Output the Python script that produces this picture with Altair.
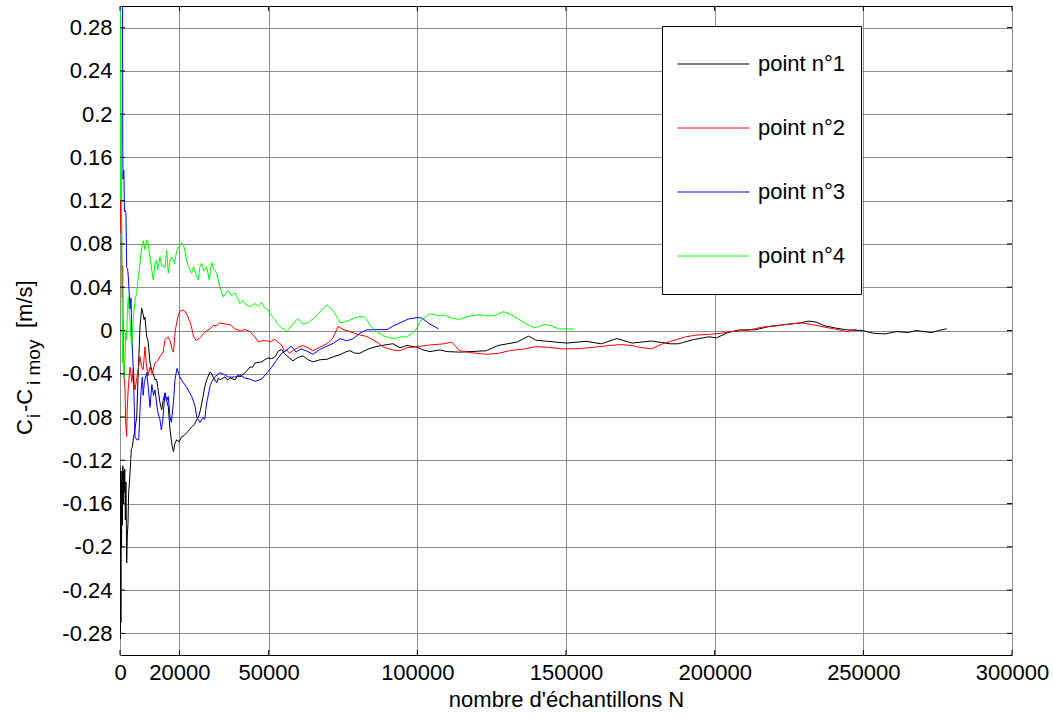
import altair as alt
import pandas as pd

# ---------------- data ----------------
series_names = ["point n°1", "point n°2", "point n°3", "point n°4"]
series_colors = ["#000000", "#ff0000", "#0000ff", "#00ff00"]

x_ticks = [0, 20000, 50000, 100000, 150000, 200000, 250000, 300000]
y_ticks = [-0.28, -0.24, -0.2, -0.16, -0.12, -0.08, -0.04, 0, 0.04, 0.08, 0.12, 0.16, 0.2, 0.24, 0.28]

n1 = [0, 100, 200, 300, 400, 520, 650, 800, 950, 1100, 1250, 1400, 1600, 1800, 2000, 2250, 2450, 2700,
      2900, 3200, 3500, 3800, 4136, 4500, 5000, 5616, 6053, 6400, 6726, 7000, 7298, 7700, 8100, 8408,
      8979, 9416, 9800, 10100, 10661, 11200, 11771, 12300, 12679, 13452, 14024, 14500, 15134, 15700,
      16243, 16815, 17200, 17589, 18000, 18400, 19068, 19900, 20750, 21600, 22431, 23300, 24113, 25000,
      25794, 26400, 26904, 27913, 28500, 29157, 30267, 30800, 31276, 32520, 33100, 33630, 35312, 36200,
      36993, 38675, 39500, 40356, 42038, 43719, 44600, 45401, 47654, 48700, 49772, 51000, 52127, 53300,
      54380, 55200, 56061, 58180, 59800, 61543, 63200, 64906, 67300, 69614, 72000, 73986, 75700, 77349,
      78900, 80712, 83066, 84700, 86429, 89792, 91810, 94164, 96518, 99881, 102000, 104253, 107616,
      110000, 114187, 118000, 123215, 127084, 133532, 137401, 139981, 146430, 150299, 156747, 161906,
      167064, 172223, 178672, 185120, 187700, 192858, 198017, 200597, 204466, 208335, 213494, 218652,
      223811, 228970, 231549, 234128, 236708, 240577, 244446, 249605, 253474, 257343, 261212, 265081,
      267660, 272819, 275398, 277977]
c1 = [-0.125, -0.285, -0.13, -0.27, -0.14, -0.2, -0.13, -0.18, -0.125, -0.16, -0.13, -0.15, -0.128,
      -0.175, -0.14, -0.215, -0.19, -0.178, -0.15, -0.14, -0.125, -0.11, -0.108, -0.1, -0.092, -0.08,
      -0.0456, -0.02, 0.0032, 0.012, 0.0207, 0.016, 0.01, 0.0124, -0.006, -0.0088, -0.0207, -0.03,
      -0.0364, -0.04, -0.0456, -0.045, -0.052, -0.0668, -0.0733, -0.065, -0.0576, -0.065, -0.0705,
      -0.0917, -0.1, -0.1074, -0.112, -0.105, -0.101, -0.103, -0.0982, -0.097, -0.0945, -0.092, -0.089,
      -0.087, -0.0825, -0.08, -0.0752, -0.0613, -0.052, -0.0456, -0.0383, -0.04, -0.0429, -0.0484,
      -0.044, -0.0456, -0.0429, -0.046, -0.0438, -0.0456, -0.042, -0.0429, -0.0392, -0.0337, -0.034,
      -0.03, -0.029, -0.027, -0.0254, -0.026, -0.0244, -0.019, -0.0176, -0.021, -0.0234, -0.028,
      -0.025, -0.0234, -0.027, -0.029, -0.027, -0.0266, -0.024, -0.0224, -0.02, -0.0186, -0.021,
      -0.021, -0.0176, -0.016, -0.0147, -0.0131, -0.0122, -0.016, -0.0138, -0.0155, -0.018, -0.0195,
      -0.018, -0.0195, -0.02, -0.0195, -0.0187, -0.0139, -0.0107, -0.0052, -0.009, -0.0107, -0.0116,
      -0.01, -0.0123, -0.0074, -0.0116, -0.0097, -0.0123, -0.0123, -0.0084, -0.0058, -0.0068, -0.0019,
      0.0006, 0.0006, 0.0039, 0.0055, 0.0071, 0.0087, 0.0078, 0.0045, 0.0023, 0.0006, 0.0, -0.0026,
      -0.0032, -0.001, -0.0019, 0.0, -0.0019, 0.0, 0.0016]

n2 = [0, 100, 200, 300, 450, 600, 800, 900, 1000, 1110, 1350, 1682, 1900, 2100, 2253, 2400, 2690, 3000,
      3363, 3700, 3935, 4300, 4473, 4800, 5045, 5600, 6100, 6726, 7200, 7800, 8408, 8800, 9400, 10089,
      10800, 11771, 12700, 13452, 14500, 15134, 16243, 16900, 17600, 18000, 18600, 19500, 20100, 21000,
      22000, 22800, 23900, 24700, 25500, 26300, 27100, 28000, 29000, 30300, 31400, 32500, 33600, 35300,
      37000, 38700, 40400, 42000, 43700, 45400, 46500, 47600, 49200, 50500, 52100, 54400, 55300, 56100,
      57000, 58200, 60000, 61500, 63200, 64900, 67200, 69600, 71500, 73400, 75000, 77300, 80700, 83000,
      86400, 88700, 91800, 94200, 96500, 100000, 103900, 109000, 111600, 114200, 118100, 123200, 127100,
      131000, 136100, 140000, 143900, 149000, 154200, 159300, 164500, 168400, 172200, 174800, 178700,
      182500, 186400, 190300, 194100, 198000, 201900, 205800, 210900, 216100, 219900, 223800, 229000,
      232800, 236700, 240600, 244400, 247700]
c2 = [0.2, 0.1, 0.19, 0.09, 0.12, 0.06, 0.03, 0.06, 0.015, 0.003, -0.035, -0.055, -0.085, -0.092,
      -0.098, -0.075, -0.058, -0.045, -0.034, -0.04, -0.048, -0.04, -0.035, -0.05, -0.055, -0.045,
      -0.036, -0.024, -0.033, -0.036, -0.015, -0.03, -0.042, -0.034, -0.04, -0.03, -0.028, -0.024, -0.02,
      -0.0083, -0.006, -0.01, -0.018, -0.02, 0.0005, 0.013, 0.0175, 0.019, 0.0175, 0.013, 0.005, -0.005,
      -0.009, -0.008, -0.0065, -0.003, -0.0005, 0.0015, 0.0045, 0.0045, 0.007, 0.006, 0.0055, 0.0015,
      -0.0005, 0.001, -0.001, -0.006, -0.0105, -0.0095, -0.0095, -0.0105, -0.0083, -0.0135, -0.0195,
      -0.018, -0.021, -0.0186, -0.0155, -0.0138, -0.016, -0.0186, -0.0155, -0.0122, -0.0074, 0.0038,
      0.001, -0.001, -0.0042, -0.0055, -0.0106, -0.0154, -0.018, -0.0186, -0.016, -0.0149, -0.0135,
      -0.0123, -0.0107, -0.0187, -0.0205, -0.022, -0.0212, -0.0187, -0.017, -0.0149, -0.0155, -0.017,
      -0.0168, -0.0155, -0.0139, -0.013, -0.0139, -0.0155, -0.017, -0.0123, -0.009, -0.0058, -0.0042,
      -0.0036, -0.0026, -0.001, 0.0, 0.0032, 0.0039, 0.0055, 0.0071, 0.0055, 0.0032, 0.0013, -0.001,
      0.0013]

n3 = [0, 500, 850, 920, 1000, 1150, 1300, 1500, 1700, 2000, 2150, 2253, 2550, 2791, 3000, 3363, 3700,
      3935, 4200, 4473, 4800, 5045, 5616, 6300, 6726, 7100, 7500, 7800, 8200, 8979, 9500, 10089, 10700,
      11300, 11771, 12679, 13452, 13900, 14300, 15134, 15700, 16243, 16815, 17300, 18000, 18500, 19200,
      20000, 20750, 22431, 24113, 25250, 25794, 26900, 27900, 28500, 29157, 30400, 31800, 33600, 35300,
      36300, 38675, 40356, 42000, 43700, 45400, 47600, 49500, 51000, 52500, 54400, 56100, 57600, 59200,
      60900, 62800, 64900, 67200, 69600, 72000, 74000, 76300, 78500, 80700, 83000, 86400, 89800, 92100,
      94500, 96900, 99900, 101600, 103900, 105600, 107100]
c3 = [0.9, 0.5, 0.32, 0.18, 0.14, 0.146, 0.148, 0.11, 0.111, 0.109, 0.08, 0.058, 0.057, 0.05, 0.04,
      0.02, 0.03, 0.0005, -0.02, -0.036, -0.07, -0.098, -0.101, -0.101, -0.073, -0.055, -0.043, -0.06,
      -0.048, -0.039, -0.052, -0.071, -0.05, -0.06, -0.055, -0.075, -0.0825, -0.092, -0.085, -0.058,
      -0.065, -0.061, -0.08, -0.085, -0.065, -0.045, -0.035, -0.042, -0.046, -0.0525, -0.061, -0.07,
      -0.08, -0.085, -0.0805, -0.082, -0.067, -0.05, -0.043, -0.039, -0.041, -0.043, -0.043, -0.041,
      -0.044, -0.045, -0.047, -0.045, -0.039, -0.034, -0.028, -0.021, -0.018, -0.0145, -0.02, -0.017,
      -0.019, -0.022, -0.0175, -0.0145, -0.0115, -0.0075, -0.0095, -0.0075, -0.0025, 0.0006, 0.0008,
      0.0008, 0.0045, 0.0075, 0.0105, 0.012, 0.0115, 0.0065, 0.004, 0.0015]

n4 = [0, 100, 150, 250, 350, 450, 560, 700, 820, 950, 1110, 1350, 1682, 1950, 2253, 2500, 2791, 3100,
      3363, 3650, 3935, 4200, 4473, 4750, 5045, 5616, 6053, 6726, 7298, 7850, 8400, 8979, 9400, 10089,
      10661, 11200, 11771, 12300, 12679, 13452, 14000, 14500, 15134, 15700, 16243, 16815, 17589, 18300,
      19100, 20000, 20750, 21600, 22431, 23000, 24113, 24700, 25500, 26300, 26900, 27500, 28200, 29157,
      30000, 30800, 31500, 32520, 33600, 34700, 35500, 36500, 37500, 38700, 39500, 40400, 41300, 42000,
      43700, 45400, 46500, 47600, 48600, 49800, 50900, 52100, 53200, 54400, 55500, 56100, 57000, 58200,
      59800, 61500, 63200, 65000, 66800, 68500, 69600, 70800, 72000, 73500, 74000, 75500, 77300, 79000,
      80700, 82000, 83100, 84300, 86500, 88700, 90500, 92300, 94800, 96500, 98700, 100000, 101200,
      102600, 103900, 105200, 107500, 109000, 111600, 114200, 116000, 118100, 121000, 123500, 125800,
      127500, 129000, 130500, 132200, 134000, 136100, 139300, 141000, 142600, 145000, 147700, 150000,
      152900]
c4 = [0.9, 0.3, 0.12, 0.28, 0.12, 0.2, 0.115, 0.04, -0.03, 0.01, -0.036, -0.045, -0.027, 0.0, -0.009,
      0.02, 0.031, 0.015, 0.01, -0.005, -0.015, 0.0, 0.01, 0.02, 0.028, 0.035, 0.047, 0.062, 0.077,
      0.083, 0.075, 0.083, 0.082, 0.068, 0.056, 0.047, 0.062, 0.065, 0.056, 0.068, 0.06, 0.06, 0.058,
      0.074, 0.053, 0.065, 0.068, 0.062, 0.074, 0.078, 0.081, 0.077, 0.065, 0.059, 0.053, 0.059, 0.052,
      0.047, 0.059, 0.062, 0.055, 0.059, 0.047, 0.063, 0.057, 0.053, 0.04, 0.031, 0.034, 0.037, 0.032,
      0.035, 0.03, 0.025, 0.028, 0.025, 0.022, 0.025, 0.022, 0.026, 0.021, 0.019, 0.014, 0.01, 0.0055,
      0.002, 0.001, -0.0015, 0.002, 0.006, 0.011, 0.006, 0.007, 0.011, 0.016, 0.021, 0.0235, 0.021,
      0.017, 0.01, 0.007, 0.008, 0.0095, 0.0115, 0.013, 0.0125, 0.01, 0.004, -0.0015, -0.005, -0.0065,
      -0.0074, -0.0058, -0.006, -0.002, 0.003, 0.0095, 0.012, 0.015, 0.0152, 0.0135, 0.0145, 0.0115,
      0.0103, 0.012, 0.0136, 0.0145, 0.0135, 0.0136, 0.0155, 0.0174, 0.016, 0.0136, 0.0105, 0.0071,
      0.0023, 0.004, 0.0055, 0.0045, 0.0013, 0.0015, 0.0013]

# ---------------- build table ----------------
frames = []
for name, ns, cs in zip(series_names, [n1, n2, n3, n4], [c1, c2, c3, c4]):
    frames.append(pd.DataFrame({"N": ns, "C": cs, "serie": name}))
df = pd.concat(frames, ignore_index=True)

FONT = "Liberation Sans"
W, H = 892, 649

x_scale = alt.Scale(domain=[0, 300000], nice=False, zero=False)
y_scale = alt.Scale(domain=[-0.3, 0.3], nice=False, zero=False)

lines = alt.Chart(df).mark_line(strokeWidth=1, clip=True).encode(
    x=alt.X("N:Q", scale=x_scale,
            axis=alt.Axis(values=x_ticks, format="d", labelFontSize=22, labelPadding=7,
                          ticks=False, domain=False, grid=True, gridColor="#8c8c8c",
                          gridWidth=1, labelFlush=False, labelOverlap=False,
                          labelColor="#000000", title="nombre d'échantillons N",
                          titleFontSize=22, titleFontWeight="normal", titlePadding=6,
                          titleColor="#000000")),
    y=alt.Y("C:Q", scale=y_scale,
            axis=alt.Axis(values=y_ticks,
                          labelExpr="(datum.value < 0 ? '-' : '') + format(abs(datum.value), '.2~f')",
                          labelFontSize=22, labelPadding=8, ticks=False, domain=False, grid=True,
                          gridColor="#8c8c8c", gridWidth=1, labelOverlap=False, labelFlush=False,
                          labelColor="#000000", title=None)),
    color=alt.Color("serie:N",
                    scale=alt.Scale(domain=series_names, range=series_colors),
                    legend=alt.Legend(title=None, orient="none", legendX=542, legendY=20,
                                      symbolType="stroke", symbolSize=5184, symbolStrokeWidth=1,
                                      clipHeight=46, rowPadding=18, padding=15, labelOffset=8,
                                      labelFontSize=22, labelColor="#000000",
                                      fillColor="#ffffff", strokeColor="#000000",
                                      cornerRadius=0)),
)

# inward tick marks on the four sides of the box
xt = pd.DataFrame({"N": x_ticks})
yt = pd.DataFrame({"C": y_ticks})
tick_bottom = alt.Chart(xt).mark_rule(color="#000000", strokeWidth=1).encode(
    x=alt.X("N:Q", scale=x_scale), y=alt.value(H), y2=alt.value(H - 5))
tick_top = alt.Chart(xt).mark_rule(color="#000000", strokeWidth=1).encode(
    x=alt.X("N:Q", scale=x_scale), y=alt.value(0), y2=alt.value(5))
tick_left = alt.Chart(yt).mark_rule(color="#000000", strokeWidth=1).encode(
    y=alt.Y("C:Q", scale=y_scale), x=alt.value(0), x2=alt.value(5))
tick_right = alt.Chart(yt).mark_rule(color="#000000", strokeWidth=1).encode(
    y=alt.Y("C:Q", scale=y_scale), x=alt.value(W), x2=alt.value(W - 5))

# y-axis title with subscripts: C_i - C_i moy [m/s]
one = pd.DataFrame({"k": [0]})
def title_piece(txt, xpos, ypos, size):
    return alt.Chart(one).mark_text(text=txt, angle=270, align="left", baseline="alphabetic",
                                    font=FONT, fontSize=size, color="#000000").encode(
        x=alt.value(xpos), y=alt.value(ypos))

ytitle = [
    title_piece("C", -88, 429, 22),
    title_piece("i", -80, 412, 18),
    title_piece("-C", -88, 406, 22),
    title_piece("i moy", -80, 379, 19),
    title_piece("[m/s]", -88, 322, 22),
]

chart = alt.layer(lines, tick_bottom, tick_top, tick_left, tick_right, *ytitle).properties(
    width=W, height=H,
    autosize=alt.AutoSizeParams(type="none"),
    padding={"left": 120, "top": 6, "right": 41, "bottom": 62},
).configure(font=FONT).configure_view(stroke="#000000", strokeWidth=1)

chart.save("out.html", embed_options={"renderer": "svg", "actions": False})
